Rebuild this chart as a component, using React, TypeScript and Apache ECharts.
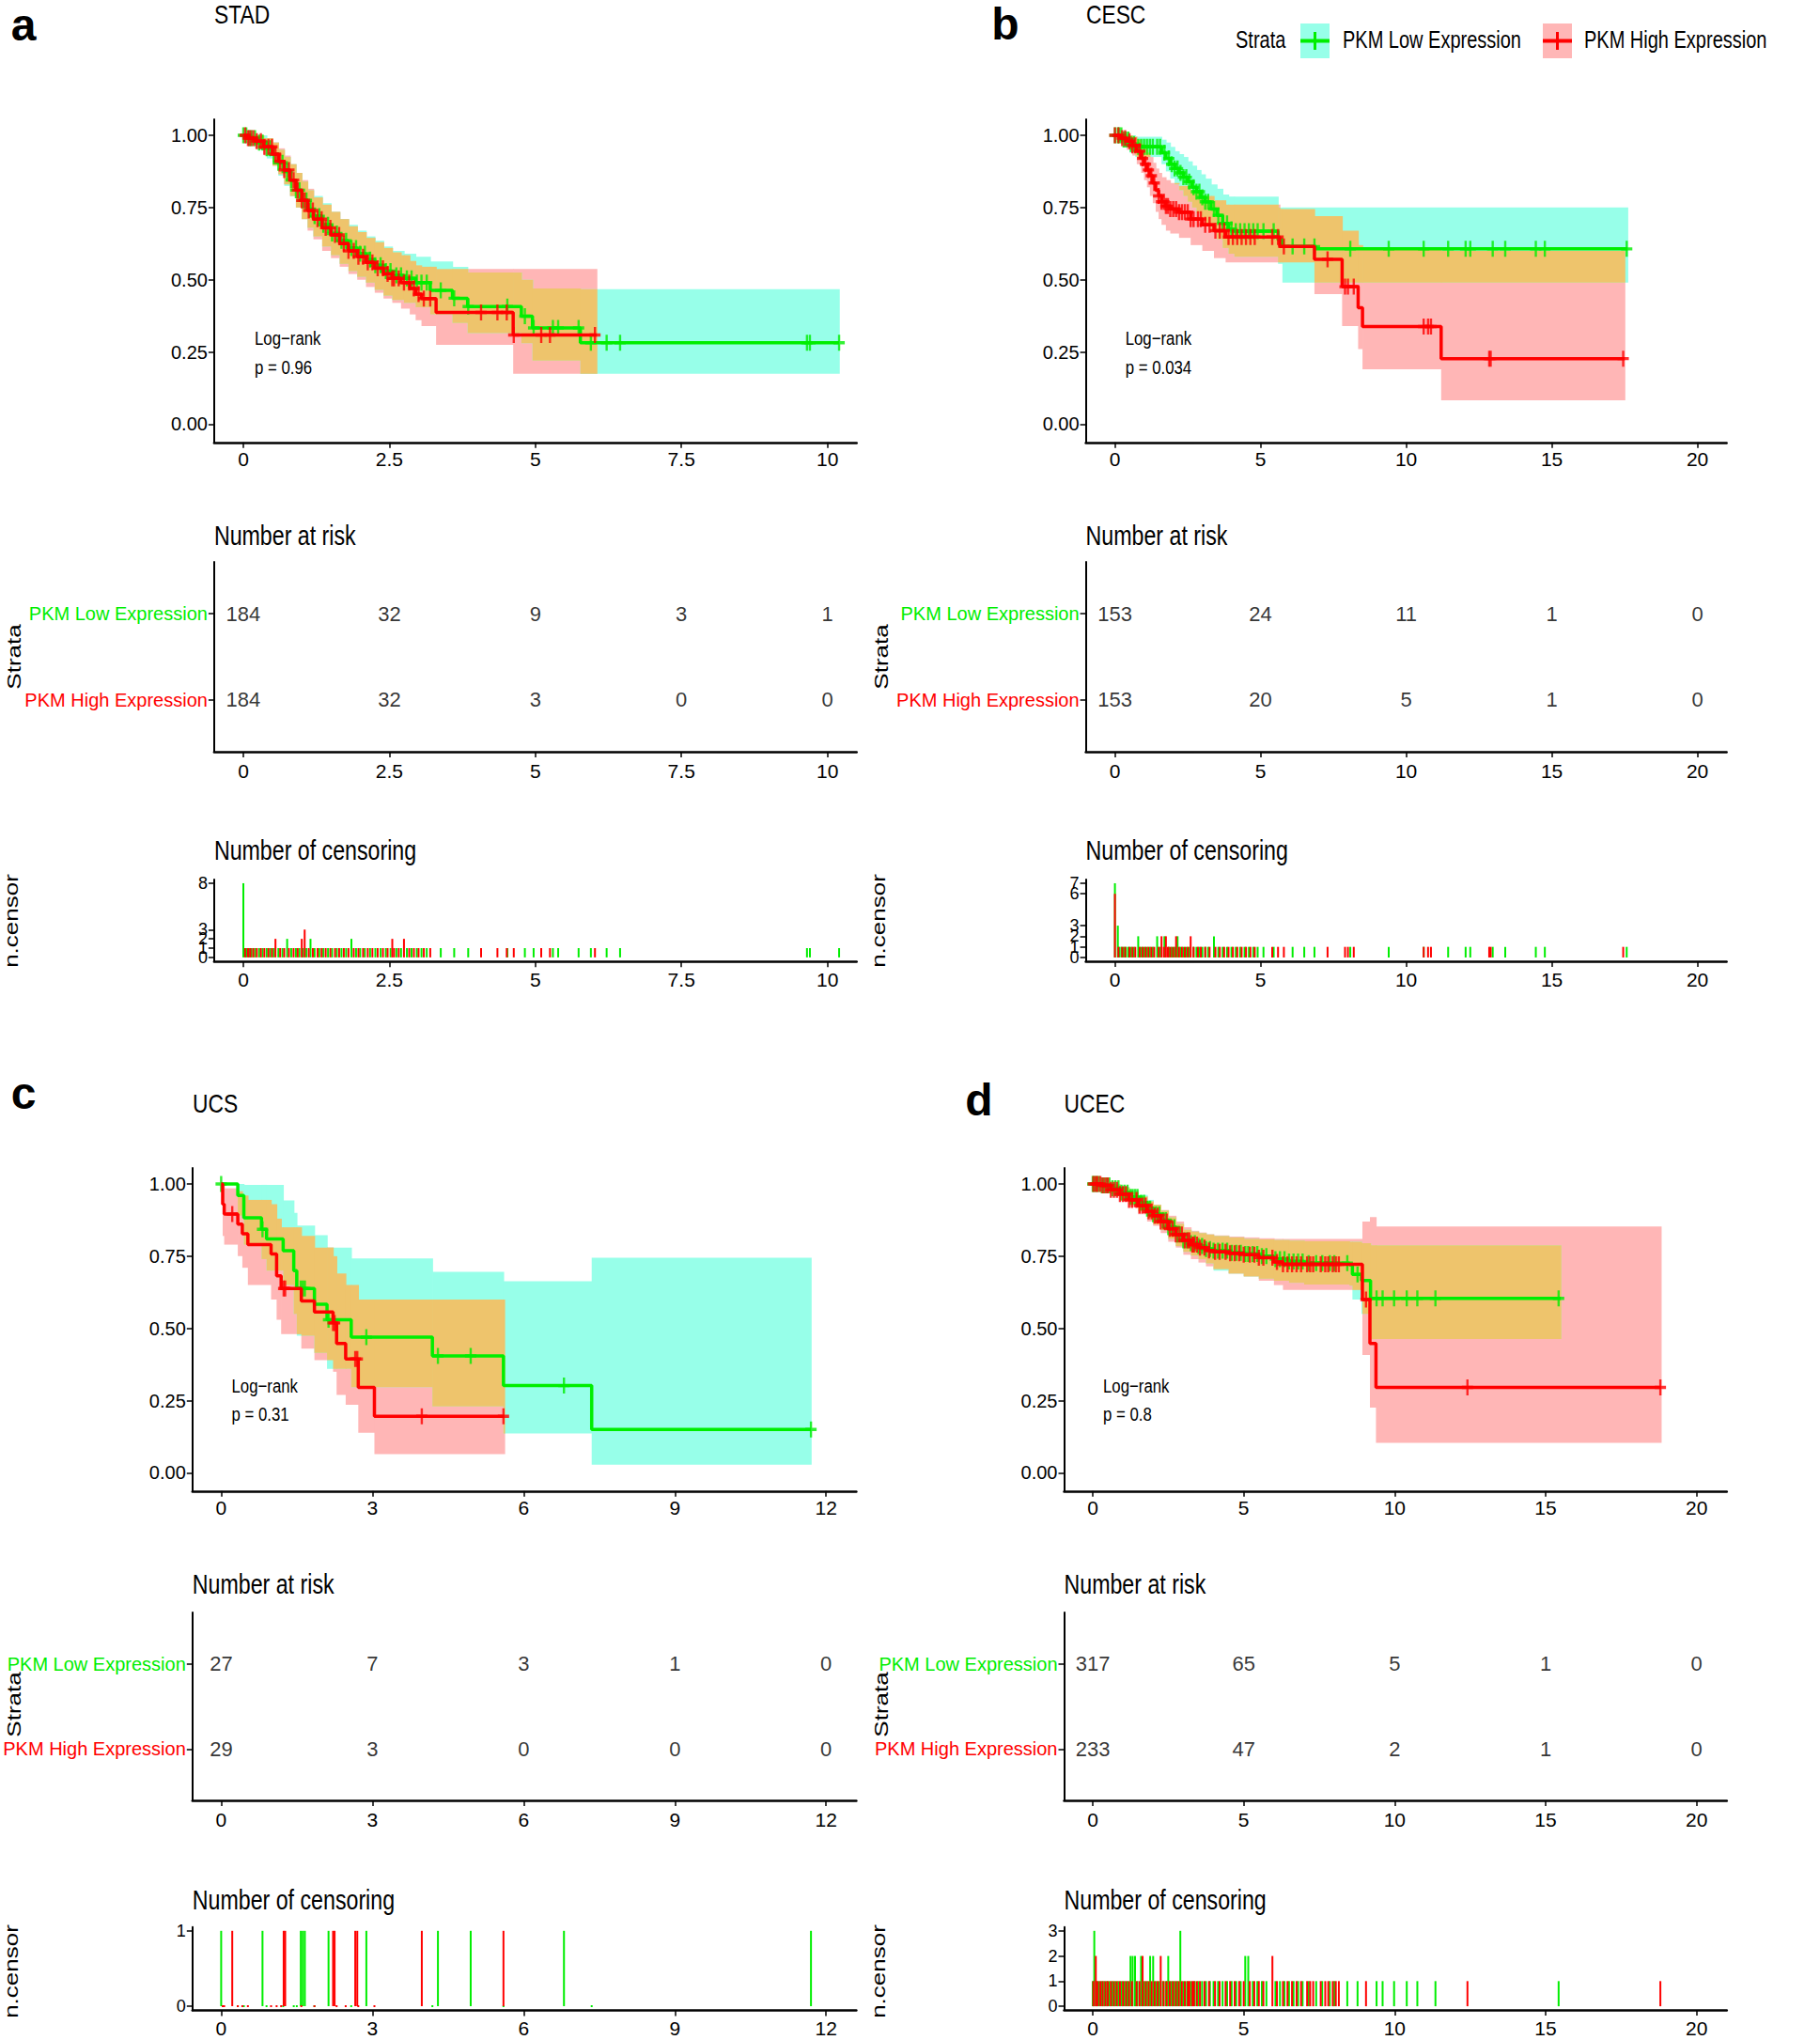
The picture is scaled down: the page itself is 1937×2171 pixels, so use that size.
import React, { useEffect, useRef } from 'react';
import * as echarts from 'echarts';

// ---------------- colours / fonts ----------------
const GREEN = '#00EE00';
const RED = '#FF0000';
const CYAN = '#97FFE9';
const PINK = '#FFB6B6';
const ORANGE = '#EEC46C';
const SANS = "'Liberation Sans', Arial, sans-serif";
const SQUEEZE = 0.8; // horizontal compression of the reference's lettering

const strataNames = ['PKM Low Expression', 'PKM High Expression'];

// ---------------- Panel a : STAD ----------------
const titleA = 'STAD';
const pValA = 'p = 0.96';
const xTicksA = [0, 2.5, 5, 7.5, 10];
const riskLowA = [184, 32, 9, 3, 1];
const riskHighA = [184, 32, 3, 0, 0];
const censorTicksA = [0, 1, 2, 3, 8];
const kmLowA = [[0,1],[0.1,0.99],[0.25,0.975],[0.4,0.955],[0.5,0.935],[0.6,0.905],[0.7,0.875],[0.8,0.845],[0.9,0.81],[1.0,0.775],[1.1,0.745],[1.2,0.72],[1.35,0.69],[1.5,0.66],[1.65,0.635],[1.8,0.61],[1.95,0.59],[2.1,0.57],[2.25,0.55],[2.4,0.53],[2.55,0.515],[2.75,0.505],[2.95,0.49],[3.2,0.463],[3.58,0.436],[3.84,0.407],[4.76,0.374],[4.95,0.333],[5.77,0.282]];
const kmLowEndA = 10.2;
const kmHighA = [[0,1],[0.08,0.99],[0.2,0.98],[0.35,0.96],[0.5,0.935],[0.6,0.91],[0.7,0.88],[0.8,0.845],[0.9,0.81],[1.0,0.775],[1.1,0.74],[1.2,0.71],[1.35,0.68],[1.5,0.655],[1.65,0.625],[1.8,0.6],[1.95,0.58],[2.1,0.56],[2.25,0.54],[2.4,0.52],[2.55,0.505],[2.7,0.49],[2.85,0.47],[2.95,0.45],[3.05,0.435],[3.3,0.387],[4.62,0.309]];
const kmHighEndA = 6.05;
const bandLowA = [[0,1,1],[0.1,0.975,1],[0.25,0.95,1],[0.4,0.92,0.99],[0.5,0.895,0.975],[0.6,0.86,0.95],[0.7,0.825,0.925],[0.8,0.79,0.9],[0.9,0.75,0.87],[1.0,0.71,0.84],[1.1,0.68,0.81],[1.2,0.65,0.79],[1.35,0.615,0.765],[1.5,0.585,0.735],[1.65,0.555,0.71],[1.8,0.53,0.69],[1.95,0.51,0.67],[2.1,0.49,0.65],[2.25,0.465,0.635],[2.4,0.445,0.615],[2.55,0.43,0.6],[2.75,0.42,0.59],[2.95,0.405,0.58],[3.2,0.38,0.563],[3.58,0.35,0.545],[3.84,0.315,0.525],[4.76,0.28,0.5],[4.95,0.22,0.47],[5.77,0.175,0.467]];
const bandHighA = [[0,1,1],[0.08,0.975,1],[0.2,0.955,1],[0.35,0.93,0.99],[0.5,0.895,0.975],[0.6,0.865,0.955],[0.7,0.83,0.93],[0.8,0.79,0.9],[0.9,0.75,0.87],[1.0,0.71,0.845],[1.1,0.67,0.815],[1.2,0.64,0.785],[1.35,0.6,0.76],[1.5,0.575,0.735],[1.65,0.545,0.71],[1.8,0.52,0.685],[1.95,0.5,0.665],[2.1,0.475,0.645],[2.25,0.455,0.63],[2.4,0.435,0.61],[2.55,0.42,0.595],[2.7,0.4,0.585],[2.85,0.38,0.565],[2.95,0.36,0.55],[3.05,0.34,0.545],[3.3,0.275,0.537],[4.62,0.175,0.537]];
const censorLowA = [[0,8],[0.05,1],[0.1,1],[0.14,1],[0.2,1],[0.27,1],[0.33,1],[0.4,1],[0.46,1],[0.52,1],[0.6,1],[0.67,1],[0.75,2],[0.82,1],[0.9,1],[0.96,1],[1.02,1],[1.08,1],[1.15,2],[1.22,1],[1.3,1],[1.37,1],[1.45,1],[1.52,1],[1.6,1],[1.68,1],[1.76,1],[1.85,2],[1.93,1],[2.0,1],[2.08,1],[2.17,1],[2.26,1],[2.35,1],[2.44,1],[2.52,1],[2.62,1],[2.7,1],[2.8,1],[2.88,1],[2.97,1],[3.05,1],[3.14,1],[3.38,1],[3.61,1],[3.85,1],[4.52,1],[4.82,1],[4.97,1],[5.3,1],[5.39,1],[5.74,1],[5.95,1],[6.22,1],[6.45,1],[9.65,1],[9.7,1],[10.2,1]];
const censorHighA = [[0.03,1],[0.08,1],[0.12,1],[0.17,1],[0.23,1],[0.3,1],[0.36,1],[0.43,1],[0.49,1],[0.55,2],[0.63,1],[0.7,1],[0.78,1],[0.86,1],[0.93,1],[1.0,2],[1.05,3],[1.12,1],[1.19,1],[1.27,1],[1.34,1],[1.41,1],[1.49,1],[1.57,1],[1.64,1],[1.72,1],[1.8,1],[1.89,1],[1.97,1],[2.05,1],[2.13,1],[2.21,1],[2.3,1],[2.39,1],[2.47,1],[2.55,2],[2.58,1],[2.66,1],[2.75,2],[2.84,1],[2.92,1],[3.0,1],[3.09,1],[3.2,1],[4.07,1],[4.35,1],[4.51,1],[4.63,1],[5.1,1],[5.25,1],[6.02,1]];

// ---------------- Panel b : CESC ----------------
const titleB = 'CESC';
const pValB = 'p = 0.034';
const xTicksB = [0, 5, 10, 15, 20];
const riskLowB = [153, 24, 11, 1, 0];
const riskHighB = [153, 20, 5, 1, 0];
const censorTicksB = [0, 1, 2, 3, 6, 7];
const kmLowB = [[0,1],[0.3,0.985],[0.5,0.97],[0.7,0.96],[1.6,0.94],[1.75,0.92],[1.9,0.9],[2.05,0.885],[2.2,0.87],[2.35,0.855],[2.5,0.84],[2.65,0.82],[2.8,0.805],[2.95,0.785],[3.1,0.77],[3.3,0.745],[3.5,0.723],[3.7,0.695],[3.9,0.675],[4.1,0.668],[5.6,0.638],[5.75,0.615],[6.9,0.607]];
const kmLowEndB = 17.6;
const kmHighB = [[0,1],[0.2,0.99],[0.4,0.98],[0.6,0.965],[0.75,0.945],[0.9,0.92],[1.0,0.9],[1.1,0.88],[1.2,0.86],[1.3,0.835],[1.4,0.81],[1.5,0.79],[1.6,0.77],[1.75,0.755],[1.9,0.745],[2.2,0.734],[2.6,0.71],[3.0,0.69],[3.4,0.67],[3.8,0.648],[5.66,0.615],[6.85,0.571],[7.8,0.476],[8.35,0.403],[8.5,0.338],[11.2,0.227]];
const kmHighEndB = 17.5;
const bandLowB = [[0,1,1],[0.3,0.96,1],[0.5,0.94,1],[0.7,0.925,0.995],[1.6,0.9,0.985],[1.75,0.875,0.975],[1.9,0.85,0.96],[2.05,0.83,0.945],[2.2,0.81,0.935],[2.35,0.79,0.925],[2.5,0.77,0.91],[2.65,0.75,0.895],[2.8,0.73,0.88],[2.95,0.71,0.865],[3.1,0.69,0.85],[3.3,0.665,0.83],[3.5,0.64,0.815],[3.7,0.61,0.795],[3.9,0.59,0.788],[4.1,0.58,0.788],[5.6,0.555,0.75],[5.75,0.49,0.75]];
const bandHighB = [[0,1,1],[0.2,0.97,1],[0.4,0.95,1],[0.6,0.93,0.995],[0.75,0.9,0.985],[0.9,0.87,0.97],[1.0,0.845,0.955],[1.1,0.82,0.94],[1.2,0.79,0.925],[1.3,0.765,0.905],[1.4,0.735,0.885],[1.5,0.71,0.87],[1.6,0.69,0.855],[1.75,0.67,0.845],[1.9,0.66,0.835],[2.2,0.645,0.825],[2.6,0.62,0.81],[3.0,0.6,0.79],[3.4,0.575,0.775],[3.8,0.56,0.76],[5.66,0.56,0.745],[6.85,0.45,0.72],[7.8,0.34,0.67],[8.35,0.26,0.62],[8.5,0.19,0.604],[11.2,0.083,0.6]];
const censorLowB = [[0,7],[0.1,3],[0.15,1],[0.22,1],[0.3,1],[0.38,1],[0.46,1],[0.55,1],[0.65,1],[0.8,2],[0.9,1],[1.0,1],[1.1,1],[1.2,1],[1.3,1],[1.45,2],[1.55,1],[1.7,2],[1.85,1],[1.95,1],[2.05,1],[2.15,2],[2.25,1],[2.35,1],[2.45,1],[2.55,1],[2.7,1],[2.8,1],[2.9,1],[3.0,1],[3.1,1],[3.2,1],[3.4,2],[3.55,1],[3.7,1],[3.85,1],[4.0,1],[4.15,1],[4.3,1],[4.45,1],[4.6,1],[4.75,1],[4.9,1],[5.1,1],[5.45,1],[6.1,1],[6.5,1],[6.85,1],[8.08,1],[9.4,1],[10.6,1],[11.44,1],[12.04,1],[12.2,1],[12.97,1],[13.4,1],[14.45,1],[14.76,1],[17.57,1]];
const censorHighB = [[0,6],[0.12,1],[0.25,1],[0.35,1],[0.5,1],[0.6,1],[0.7,1],[0.85,1],[0.95,1],[1.05,1],[1.15,1],[1.25,1],[1.35,1],[1.5,1],[1.6,2],[1.68,1],[1.75,2],[1.82,1],[1.9,1],[2.0,1],[2.1,2],[2.2,1],[2.3,1],[2.4,1],[2.5,1],[2.6,2],[2.7,1],[2.85,1],[2.95,1],[3.1,1],[3.25,1],[3.45,1],[3.6,1],[3.75,1],[3.9,1],[4.05,1],[4.2,1],[4.35,1],[4.5,1],[4.65,1],[4.8,1],[5.4,1],[5.6,1],[5.8,1],[7.3,1],[7.9,1],[8.0,1],[8.2,1],[10.6,1],[10.75,1],[10.85,1],[12.85,1],[12.9,1],[17.45,1]];

// ---------------- Panel c : UCS ----------------
const titleC = 'UCS';
const pValC = 'p = 0.31';
const xTicksC = [0, 3, 6, 9, 12];
const riskLowC = [27, 7, 3, 1, 0];
const riskHighC = [29, 3, 0, 0, 0];
const censorTicksC = [0, 1];
const kmLowC = [[0,1],[0.33,0.96],[0.45,0.883],[0.8,0.843],[0.9,0.81],[1.23,0.769],[1.44,0.7],[1.5,0.638],[1.85,0.584],[2.1,0.53],[2.58,0.47],[4.19,0.405],[5.6,0.302],[7.35,0.15]];
const kmLowEndC = 11.7;
const kmHighC = [[0,1],[0.03,0.93],[0.06,0.896],[0.33,0.861],[0.42,0.828],[0.53,0.79],[0.99,0.758],[1.1,0.682],[1.19,0.638],[1.59,0.595],[1.85,0.557],[2.22,0.519],[2.29,0.448],[2.47,0.394],[2.72,0.296],[3.04,0.196]];
const kmHighEndC = 5.62;
const bandLowC = [[0,1,1],[0.33,0.89,1],[0.45,0.79,0.997],[0.8,0.74,0.997],[0.9,0.7,0.997],[1.23,0.65,0.943],[1.44,0.55,0.9],[1.5,0.475,0.856],[1.85,0.415,0.823],[2.1,0.36,0.78],[2.58,0.297,0.742],[4.19,0.23,0.696],[5.6,0.136,0.663],[7.35,0.028,0.745]];
const bandHighC = [[0,1,1],[0.03,0.82,1],[0.06,0.79,0.985],[0.33,0.75,0.975],[0.42,0.71,0.96],[0.53,0.65,0.945],[0.99,0.6,0.93],[1.1,0.53,0.88],[1.19,0.48,0.85],[1.59,0.43,0.82],[1.85,0.39,0.78],[2.22,0.35,0.75],[2.29,0.27,0.69],[2.47,0.236,0.65],[2.72,0.139,0.6],[3.04,0.065,0.6]];
const censorLowC = [[0,1],[0.33,0],[0.45,0],[0.82,1],[0.9,0],[1.23,0],[1.44,0],[1.5,0],[1.58,1],[1.62,1],[1.66,1],[1.85,0],[2.13,1],[2.58,0],[2.88,1],[4.19,0],[4.3,1],[4.95,1],[5.6,0],[6.8,1],[7.35,0],[11.7,1]];
const censorHighC = [[0.03,0],[0.06,0],[0.22,1],[0.33,0],[0.42,0],[0.53,0],[0.99,0],[1.1,0],[1.19,0],[1.24,1],[1.27,1],[1.59,0],[1.85,0],[2.22,1],[2.25,1],[2.29,0],[2.47,0],[2.66,1],[2.7,1],[2.72,0],[3.04,0],[3.98,1],[5.6,1]];

// ---------------- Panel d : UCEC ----------------
const titleD = 'UCEC';
const pValD = 'p = 0.8';
const xTicksD = [0, 5, 10, 15, 20];
const riskLowD = [317, 65, 5, 1, 0];
const riskHighD = [233, 47, 2, 1, 0];
const censorTicksD = [0, 1, 2, 3];
const kmLowD = [[0,1],[0.3,0.995],[0.6,0.985],[0.9,0.97],[1.2,0.955],[1.5,0.935],[1.8,0.915],[2.0,0.895],[2.25,0.875],[2.5,0.85],[2.75,0.825],[3.0,0.805],[3.25,0.795],[3.5,0.785],[3.75,0.775],[4.0,0.769],[4.5,0.762],[5.0,0.758],[5.5,0.75],[6.0,0.74],[6.5,0.732],[7.0,0.726],[8.5,0.72],[8.6,0.687],[8.9,0.666],[9.2,0.604]];
const kmLowEndD = 15.5;
const kmHighD = [[0,1],[0.3,0.995],[0.6,0.98],[0.9,0.965],[1.2,0.945],[1.5,0.925],[1.8,0.905],[2.0,0.89],[2.25,0.87],[2.5,0.845],[2.75,0.825],[3.0,0.805],[3.25,0.79],[3.5,0.78],[3.75,0.77],[4.0,0.765],[4.5,0.76],[5.0,0.755],[5.5,0.745],[6.0,0.73],[6.3,0.722],[8.93,0.6],[9.18,0.448],[9.38,0.296]];
const kmHighEndD = 18.82;
const bandLowD = [[0,1,1],[0.3,0.985,1],[0.6,0.97,0.998],[0.9,0.95,0.99],[1.2,0.93,0.978],[1.5,0.905,0.962],[1.8,0.88,0.945],[2.0,0.86,0.928],[2.25,0.84,0.908],[2.5,0.81,0.885],[2.75,0.785,0.862],[3.0,0.765,0.842],[3.25,0.752,0.835],[3.5,0.74,0.83],[3.75,0.725,0.825],[4.0,0.7,0.82],[4.5,0.69,0.815],[5.0,0.68,0.81],[5.5,0.672,0.808],[6.0,0.665,0.806],[6.5,0.658,0.804],[7.0,0.652,0.802],[8.5,0.648,0.8],[8.6,0.6,0.8],[8.9,0.55,0.795],[9.2,0.463,0.788]];
const bandHighD = [[0,1,1],[0.3,0.985,1],[0.6,0.965,0.998],[0.9,0.945,0.988],[1.2,0.92,0.972],[1.5,0.895,0.957],[1.8,0.87,0.94],[2.0,0.855,0.928],[2.25,0.83,0.91],[2.5,0.8,0.89],[2.75,0.78,0.87],[3.0,0.755,0.85],[3.25,0.74,0.838],[3.5,0.728,0.832],[3.75,0.715,0.826],[4.0,0.705,0.822],[4.5,0.69,0.818],[5.0,0.68,0.815],[5.5,0.665,0.812],[6.0,0.65,0.81],[6.3,0.633,0.81],[8.93,0.408,0.87],[9.18,0.226,0.885],[9.38,0.104,0.853]];
const censorLowD = [[0,1],[0.05,3],[0.12,1],[0.2,1],[0.3,1],[0.38,1],[0.47,1],[0.55,1],[0.65,1],[0.75,1],[0.85,1],[0.95,1],[1.05,1],[1.15,1],[1.25,2],[1.32,2],[1.4,2],[1.48,1],[1.6,2],[1.7,1],[1.8,1],[1.9,2],[2.0,2],[2.1,1],[2.2,1],[2.32,1],[2.42,1],[2.5,2],[2.6,1],[2.7,1],[2.8,1],[2.9,3],[3.0,1],[3.12,1],[3.25,1],[3.38,1],[3.5,1],[3.62,1],[3.75,1],[3.88,1],[4.0,1],[4.15,1],[4.3,1],[4.45,1],[4.6,1],[4.75,1],[4.9,1],[5.05,2],[5.15,2],[5.3,1],[5.45,1],[5.6,1],[5.75,1],[6.05,1],[6.2,1],[6.35,1],[6.5,1],[6.65,1],[6.8,1],[6.95,1],[7.15,1],[7.4,1],[7.6,1],[7.85,1],[8.0,1],[8.43,1],[8.77,1],[9.4,1],[9.6,1],[9.98,1],[10.4,1],[10.75,1],[11.35,1],[15.43,1]];
const censorHighD = [[0.02,1],[0.1,2],[0.16,1],[0.25,1],[0.33,1],[0.42,1],[0.5,1],[0.6,1],[0.7,1],[0.8,1],[0.9,1],[1.0,1],[1.1,1],[1.2,1],[1.3,1],[1.45,1],[1.55,1],[1.65,2],[1.75,1],[1.85,1],[1.95,1],[2.05,1],[2.15,1],[2.25,2],[2.35,1],[2.45,1],[2.55,1],[2.65,1],[2.75,1],[2.85,1],[2.95,1],[3.05,1],[3.15,1],[3.2,1],[3.3,1],[3.35,1],[3.45,1],[3.55,1],[3.7,1],[3.85,1],[4.05,1],[4.2,1],[4.4,1],[4.55,1],[4.7,1],[4.85,1],[5.0,1],[5.2,1],[5.35,1],[5.5,1],[5.65,1],[5.95,2],[6.1,1],[6.3,1],[6.45,1],[6.6,1],[6.75,1],[6.9,1],[7.1,1],[7.2,1],[7.3,1],[7.55,1],[7.7,1],[7.8,1],[7.95,1],[8.05,1],[8.15,1],[9.05,1],[12.41,1],[18.8,1]];

// ---------------- assembling ----------------
const panels = [
  { title: titleA, pVal: pValA, xTicks: xTicksA, riskLow: riskLowA, riskHigh: riskHighA, censorTicks: censorTicksA,
    kmLow: kmLowA, kmLowEnd: kmLowEndA, kmHigh: kmHighA, kmHighEnd: kmHighEndA, bandLow: bandLowA, bandHigh: bandHighA,
    censorLow: censorLowA, censorHigh: censorHighA, letter: 'a' },
  { title: titleB, pVal: pValB, xTicks: xTicksB, riskLow: riskLowB, riskHigh: riskHighB, censorTicks: censorTicksB,
    kmLow: kmLowB, kmLowEnd: kmLowEndB, kmHigh: kmHighB, kmHighEnd: kmHighEndB, bandLow: bandLowB, bandHigh: bandHighB,
    censorLow: censorLowB, censorHigh: censorHighB, letter: 'b' },
  { title: titleC, pVal: pValC, xTicks: xTicksC, riskLow: riskLowC, riskHigh: riskHighC, censorTicks: censorTicksC,
    kmLow: kmLowC, kmLowEnd: kmLowEndC, kmHigh: kmHighC, kmHighEnd: kmHighEndC, bandLow: bandLowC, bandHigh: bandHighC,
    censorLow: censorLowC, censorHigh: censorHighC, letter: 'c' },
  { title: titleD, pVal: pValD, xTicks: xTicksD, riskLow: riskLowD, riskHigh: riskHighD, censorTicks: censorTicksD,
    kmLow: kmLowD, kmLowEnd: kmLowEndD, kmHigh: kmHighD, kmHighEnd: kmHighEndD, bandLow: bandLowD, bandHigh: bandHighD,
    censorLow: censorLowD, censorHigh: censorHighD, letter: 'd' },
];

// layout (pixel positions) per panel
const layouts = [
  { left: 227.9, width: 683.8, xMin: -0.5, xMax: 10.5, kmTop: 127.1, riskTop: 598, riskH: 202, cTop: 936, cH: 87.3, cMin: -0.45, cMax: 8.4,
    letterXY: [25, 26], titleXY: [228, 15], riskTitleY: 570, censTitleY: 905.5, rotX: 15, strataY: 699, ncensY: 980, lrXY: [271, 360] },
  { left: 1155.6, width: 682, xMin: -1, xMax: 21, kmTop: 127.1, riskTop: 598, riskH: 202, cTop: 936, cH: 86.9, cMin: -0.35, cMax: 7.35,
    letterXY: [1070, 25], titleXY: [1156, 15], riskTitleY: 570, censTitleY: 905.5, rotX: 938, strataY: 699, ncensY: 980, lrXY: [1197.7, 360] },
  { left: 204.8, width: 706.6, xMin: -0.57, xMax: 12.6, kmTop: 1243.1, riskTop: 1716, riskH: 200, cTop: 2050.8, cH: 88.6, cMin: -0.055, cMax: 1.05,
    letterXY: [25, 1163], titleXY: [205, 1174], riskTitleY: 1686.5, censTitleY: 2021.6, rotX: 15, strataY: 1814, ncensY: 2098, lrXY: [246.5, 1474.6] },
  { left: 1132.5, width: 705.3, xMin: -0.95, xMax: 21, kmTop: 1243.1, riskTop: 1716, riskH: 200, cTop: 2050.8, cH: 88.3, cMin: -0.15, cMax: 3.15,
    letterXY: [1042, 1170], titleXY: [1132.6, 1174], riskTitleY: 1686.5, censTitleY: 2021.6, rotX: 938, strataY: 1814, ncensY: 2098, lrXY: [1174, 1474.6] },
];
const KM_H = 343.7;

const PLUS = 'path://M4,0L6,0L6,4L10,4L10,6L6,6L6,10L4,10L4,6L0,6L0,4L4,4Z';

function stepAt(pts: number[][], t: number, col = 1) {
  let v = pts[0][col];
  for (const p of pts) {
    if (p[0] <= t + 1e-9) v = p[col];
    else break;
  }
  return v;
}
function bandRects(pts: number[][], end: number) {
  return pts
    .map((p, i) => [p[0], i < pts.length - 1 ? pts[i + 1][0] : end, p[1], p[2]])
    .filter((r) => r[1] > r[0] && r[3] > r[2]);
}
function overlapRects(a: number[][], aEnd: number, b: number[][], bEnd: number) {
  const end = Math.min(aEnd, bEnd);
  const times = Array.from(new Set([...a.map((p) => p[0]), ...b.map((p) => p[0])]))
    .filter((t) => t < end)
    .sort((x, y) => x - y);
  const rows = times.map((t) => [t, Math.max(stepAt(a, t, 1), stepAt(b, t, 1)), Math.min(stepAt(a, t, 2), stepAt(b, t, 2))]);
  return bandRects(rows, end);
}

function rectSeries(g: number, rects: number[][], color: string, z: number) {
  return {
    type: 'custom', xAxisIndex: g, yAxisIndex: g, data: rects, encode: { x: [0, 1], y: [2, 3] }, z, silent: true,
    renderItem: (_p: any, api: any) => {
      const p0 = api.coord([api.value(0), api.value(3)]);
      const p1 = api.coord([api.value(1), api.value(2)]);
      return { type: 'rect', shape: { x: p0[0], y: p0[1], width: p1[0] - p0[0] + 0.7, height: p1[1] - p0[1] }, style: { fill: color } };
    },
  };
}
function kmLine(g: number, km: number[][], end: number, color: string, z: number) {
  return {
    type: 'line', xAxisIndex: g, yAxisIndex: g, step: 'end', data: [...km, [end, km[km.length - 1][1]]],
    showSymbol: false, symbol: 'none', lineStyle: { color, width: 3.5 }, itemStyle: { color }, z, silent: true,
  };
}
function crossSeries(g: number, km: number[][], censor: number[][], color: string, z: number) {
  return {
    type: 'scatter', xAxisIndex: g, yAxisIndex: g, symbol: PLUS, symbolSize: [12, 17], itemStyle: { color }, z, silent: true,
    data: censor.filter((c) => c[1] > 0).map((c) => [c[0], stepAt(km, c[0])]),
  };
}
function censorBars(g: number, censor: number[][], color: string, z: number) {
  return {
    type: 'custom', xAxisIndex: g, yAxisIndex: g, data: censor, encode: { x: 0, y: 1 }, z, silent: true,
    renderItem: (_p: any, api: any) => {
      const n = api.value(1);
      const p0 = api.coord([api.value(0), 0]);
      const p1 = api.coord([api.value(0), n]);
      const h = n === 0 ? 2 : p0[1] - p1[1];
      const y = n === 0 ? p0[1] - 1 : p1[1];
      return { type: 'rect', shape: { x: p0[0] - 1, y, width: 2, height: h }, style: { fill: color } };
    },
  };
}

function xAxisCfg(g: number, min: number, max: number, ticks: number[], margin: number) {
  return {
    type: 'value', gridIndex: g, min, max, splitLine: { show: false },
    axisLine: { show: true, onZero: false, lineStyle: { color: '#000', width: 2.5 } },
    axisTick: { show: true, customValues: ticks, length: 6, lineStyle: { color: '#000', width: 1.5 } },
    axisLabel: { show: true, customValues: ticks, margin, hideOverlap: false, showMinLabel: true, showMaxLabel: true,
      formatter: (v: number) => String(v), fontFamily: SANS, fontSize: 21, color: '#000' },
  };
}
function yAxisCfg(g: number, min: number, max: number, ticks: number[], labels: number[], fmt: (v: number) => string, extra: any = {}) {
  return {
    type: 'value', gridIndex: g, min, max, position: 'left', splitLine: { show: false },
    axisLine: { show: true, onZero: false, lineStyle: { color: '#000', width: 2 } },
    axisTick: { show: true, customValues: ticks, length: 6, lineStyle: { color: '#000', width: 1.5 } },
    axisLabel: { show: true, customValues: labels, margin: 7, hideOverlap: false, showMinLabel: true, showMaxLabel: true,
      formatter: fmt, fontFamily: SANS, fontSize: 20, color: '#000', ...extra },
  };
}

function txt(x: number, y: number, text: string, size: number, opts: any = {}) {
  return {
    type: 'text', x, y, silent: true, z: 100, scaleX: opts.noSqueeze ? 1 : SQUEEZE, ...(opts.el || {}),
    style: { text, fontSize: size, fontFamily: SANS, fontWeight: opts.weight || 'normal', fill: opts.fill || '#000',
      textAlign: opts.align || 'left', textVerticalAlign: 'middle' },
  };
}

function buildOption() {
  const grid: any[] = [];
  const xAxis: any[] = [];
  const yAxis: any[] = [];
  const extraY: any[] = [];
  const series: any[] = [];
  const graphic: any[] = [];

  panels.forEach((P, i) => {
    const L = layouts[i];
    // KM grid
    const k = grid.length;
    grid.push({ left: L.left, top: L.kmTop, width: L.width, height: KM_H, outerBoundsMode: 'none' });
    xAxis.push(xAxisCfg(k, L.xMin, L.xMax, P.xTicks, 7));
    const survTicks = [0, 0.25, 0.5, 0.75, 1];
    yAxis.push(yAxisCfg(k, -0.063, 1.055, survTicks, survTicks, (v: number) => v.toFixed(2)));
    series.push(rectSeries(k, bandRects(P.bandHigh, P.kmHighEnd), PINK, 1));
    series.push(rectSeries(k, bandRects(P.bandLow, P.kmLowEnd), CYAN, 2));
    series.push(rectSeries(k, overlapRects(P.bandLow, P.kmLowEnd, P.bandHigh, P.kmHighEnd), ORANGE, 3));
    series.push(kmLine(k, P.kmLow, P.kmLowEnd, GREEN, 4));
    series.push(crossSeries(k, P.kmLow, P.censorLow, GREEN, 5));
    series.push(kmLine(k, P.kmHigh, P.kmHighEnd, RED, 6));
    series.push(crossSeries(k, P.kmHigh, P.censorHigh, RED, 7));

    // risk table grid
    const r = grid.length;
    grid.push({ left: L.left, top: L.riskTop, width: L.width, height: L.riskH, outerBoundsMode: 'none' });
    xAxis.push(xAxisCfg(r, L.xMin, L.xMax, P.xTicks, 10));
    yAxis.push(yAxisCfg(r, 0.4, 2.6, [1, 2], [1, 2], (v: number) => (v === 2 ? '{g|' + strataNames[0] + '}' : '{r|' + strataNames[1] + '}'), {
      fontSize: 20,
      rich: { g: { color: GREEN, fontSize: 20, fontFamily: SANS }, r: { color: RED, fontSize: 20, fontFamily: SANS } },
    }));
    series.push({
      type: 'scatter', xAxisIndex: r, yAxisIndex: r, symbolSize: 1, itemStyle: { color: 'rgba(0,0,0,0)' }, silent: true,
      data: [...P.xTicks.map((t, j) => [t, 2, P.riskLow[j]]), ...P.xTicks.map((t, j) => [t, 1, P.riskHigh[j]])],
      label: { show: true, position: 'inside', formatter: (p: any) => String(p.value[2]), fontFamily: SANS, fontSize: 22, color: '#000' },
    });

    // censoring grid: the crowded count labels are split over two coincident y axes so none is dropped
    const c = grid.length;
    grid.push({ left: L.left, top: L.cTop, width: L.width, height: L.cH, outerBoundsMode: 'none' });
    xAxis.push(xAxisCfg(c, L.xMin, L.xMax, P.xTicks, 9));
    const labA = P.censorTicks.filter((_, j) => j % 2 === 0);
    const labB = P.censorTicks.filter((_, j) => j % 2 === 1);
    yAxis.push(yAxisCfg(c, L.cMin, L.cMax, P.censorTicks, labA, (v: number) => String(v), { fontSize: 18 }));
    const extra = yAxisCfg(c, L.cMin, L.cMax, P.censorTicks, labB, (v: number) => String(v), { fontSize: 18 });
    extra.axisLine.show = false;
    extra.axisTick.show = false;
    extraY.push(extra);
    series.push(censorBars(c, P.censorLow, GREEN, 2));
    series.push(censorBars(c, P.censorHigh, RED, 3));

    // texts
    graphic.push(txt(L.letterXY[0], L.letterXY[1], P.letter, 48, { weight: 'bold', align: 'center', noSqueeze: true }));
    graphic.push(txt(L.titleXY[0], L.titleXY[1], P.title, 28.5));
    graphic.push(txt(L.left, L.riskTitleY, 'Number at risk', 29));
    graphic.push(txt(L.left, L.censTitleY, 'Number of censoring', 29));
    graphic.push(txt(L.lrXY[0], L.lrXY[1], 'Log\u2212rank', 21));
    graphic.push(txt(L.lrXY[0], L.lrXY[1] + 30.5, P.pVal, 21));
    graphic.push(txt(L.rotX, L.strataY, 'Strata', 26, { align: 'center', el: { scaleX: 1, scaleY: 0.8, rotation: Math.PI / 2 } }));
    graphic.push(txt(L.rotX - 3, L.ncensY, 'n.censor', 26, { align: 'center', el: { scaleX: 1, scaleY: 0.8, rotation: Math.PI / 2 } }));
  });

  // legend
  graphic.push(txt(1315, 43, 'Strata', 25));
  graphic.push({ type: 'rect', shape: { x: 1384, y: 25, width: 31, height: 37 }, style: { fill: CYAN }, silent: true, z: 100 });
  graphic.push({ type: 'line', shape: { x1: 1384, y1: 43.5, x2: 1415, y2: 43.5 }, style: { stroke: GREEN, lineWidth: 4 }, silent: true, z: 101 });
  graphic.push({ type: 'line', shape: { x1: 1399.5, y1: 34, x2: 1399.5, y2: 53 }, style: { stroke: GREEN, lineWidth: 3 }, silent: true, z: 101 });
  graphic.push(txt(1429, 43, strataNames[0], 25));
  graphic.push({ type: 'rect', shape: { x: 1642, y: 25, width: 31, height: 37 }, style: { fill: PINK }, silent: true, z: 100 });
  graphic.push({ type: 'line', shape: { x1: 1642, y1: 43.5, x2: 1673, y2: 43.5 }, style: { stroke: RED, lineWidth: 4 }, silent: true, z: 101 });
  graphic.push({ type: 'line', shape: { x1: 1657.5, y1: 34, x2: 1657.5, y2: 53 }, style: { stroke: RED, lineWidth: 3 }, silent: true, z: 101 });
  graphic.push(txt(1686, 43, strataNames[1], 25));

  return { animation: false, backgroundColor: '#ffffff', grid, xAxis, yAxis: [...yAxis, ...extraY], series, graphic };
}

export default function App() {
  const ref = useRef<HTMLDivElement>(null);
  useEffect(() => {
    if (!ref.current) return;
    const chart = echarts.init(ref.current, undefined, { renderer: 'svg' });
    chart.setOption(buildOption() as any);
    return () => chart.dispose();
  }, []);
  return <div ref={ref} style={{ position: 'absolute', left: 0, top: 0, width: 1937, height: 2171, background: '#fff' }} />;
}
